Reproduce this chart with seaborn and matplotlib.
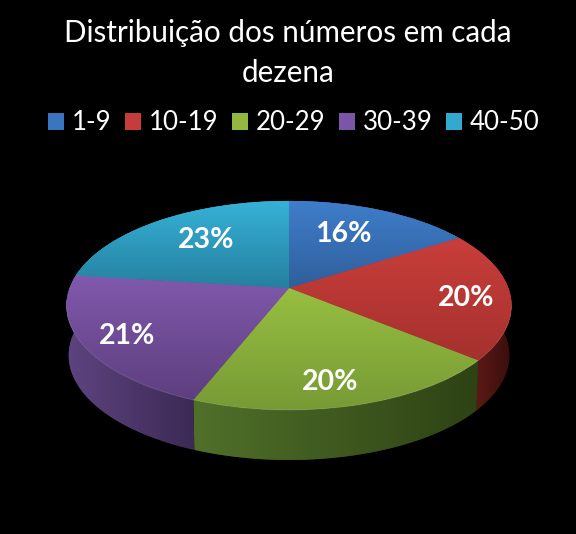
import numpy as np
import matplotlib
matplotlib.use("Agg")
import matplotlib.pyplot as plt
import matplotlib.transforms as mtransforms
from matplotlib.colors import LinearSegmentedColormap
from matplotlib.patches import Polygon
import seaborn as sns

# Dados
faixas = ["1-9", "10-19", "20-29", "30-39", "40-50"]
valores = [16, 20, 20, 21, 23]
titulo = "Distribuição dos números em cada\ndezena"

# (claro, escuro) de cada fatia
cores_topo = [("#3f7ecb", "#2f5f9c"), ("#c93e3a", "#a5312e"), ("#97bf41", "#779a35"),
              ("#8159ad", "#5d3f7e"), ("#36b2d8", "#25809f")]
cores_lado = [("#2f5f9c", "#1d3a60"), ("#6b1e1b", "#3a0e0c"), ("#50702a", "#2e4214"),
              ("#5e4480", "#3c2a55"), ("#25809f", "#164e61")]
cores_legenda = ["#3a76c0", "#c63c3a", "#93b83f", "#7b56a6", "#33a9cf"]
raio_rotulos = [0.66, 0.80, 0.80, 0.80, 0.65]
ajuste_rotulos = [(-9, 0), (0, 5), (-9, 4), (0, 4), (4, -2)]

sns.set_theme(style="dark", rc={"figure.facecolor": "black", "axes.facecolor": "black",
                                "savefig.facecolor": "black", "text.color": "white"})
plt.rcParams["font.family"] = ["Lato", "DejaVu Sans"]

# Perspectiva do disco (pixels da imagem)
CX, CY = 289, 288
A, B, K = 219.4, 101.6, 0.167
ALTURA = 50


class Perspectiva(mtransforms.Transform):
    input_dims = 2
    output_dims = 2
    is_separable = False
    has_inverse = False

    def transform_non_affine(self, values):
        values = np.asarray(values, dtype=float)
        d = 1 + K * values[:, 1]
        return np.column_stack([CX + A * values[:, 0] / d, CY - B * values[:, 1] / d])


def gradiente(ax, cores, extent, patch_path, transform, vertical=True, zorder=2):
    cmap = LinearSegmentedColormap.from_list("g", cores)
    g = np.linspace(0, 1, 256)
    g = g[:, None] if vertical else g[None, :]
    im = ax.imshow(g, cmap=cmap, extent=extent, aspect="auto", zorder=zorder, vmin=0, vmax=1)
    im.set_clip_path(patch_path, transform=transform)
    return im


fig, ax = plt.subplots(figsize=(5.76, 5.34), dpi=100)
fig.subplots_adjust(0, 0, 1, 1)

wedges, _, autotexts = ax.pie(valores, startangle=90, counterclock=False,
                              colors=cores_legenda, autopct="%.0f%%",
                              wedgeprops={"linewidth": 0},
                              textprops={"fontsize": 20.5, "fontweight": "bold", "color": "white"})
ax.set_aspect("auto")
persp = Perspectiva() + ax.transData

for i, w in enumerate(wedges):
    th = np.radians(np.linspace(w.theta1, w.theta2, 120))
    arco = Perspectiva().transform(np.column_stack([np.cos(th), np.sin(th)]))

    # lateral da fatia
    baixo = np.column_stack([CX + (arco[:, 0] - CX) * 0.99, arco[:, 1] + ALTURA])
    lado = Polygon(np.vstack([arco, baixo[::-1]]), closed=True, transform=ax.transData,
                   facecolor=cores_lado[i][1], edgecolor="none", zorder=1)
    ax.add_patch(lado)
    gradiente(ax, cores_lado[i], (arco[:, 0].min(), arco[:, 0].max(), 500, 100),
              lado.get_path(), ax.transData, vertical=False, zorder=1)

    # topo da fatia, gradiente de cima para baixo
    y_cima = min(arco[:, 1].min(), CY)
    y_baixo = max(arco[:, 1].max(), CY)
    w.set_transform(persp)
    w.set_zorder(3)
    gradiente(ax, cores_topo[i], (60, 520, y_baixo, y_cima), w.get_path(), persp, zorder=4)

    # brilho na borda da frente
    frente = arco[:, 1] > 300
    ax.plot(arco[frente, 0], arco[frente, 1], color="white", alpha=0.10, lw=0.8, zorder=5)

    # rotulo
    meio = np.radians((w.theta1 + w.theta2) / 2)
    pos = Perspectiva().transform(np.array([[raio_rotulos[i] * np.cos(meio),
                                             raio_rotulos[i] * np.sin(meio)]]))[0]
    t = autotexts[i]
    t.set_position((pos[0] + ajuste_rotulos[i][0], pos[1] + ajuste_rotulos[i][1]))
    t.set_zorder(6)

ax.set_xlim(0, 576)
ax.set_ylim(534, 0)
ax.axis("off")

ax.text(288, 53, titulo, ha="center", va="center", fontsize=21.3, color="white", linespacing=1.5)
leg = ax.legend(wedges, faixas, ncol=5, loc="center", bbox_to_anchor=(0.51, 1 - 123 / 534),
                frameon=False, fontsize=18.6, labelcolor="white", handlelength=0.62, handleheight=0.65,
                handletextpad=0.3, columnspacing=0.52)

fig.savefig("out.png", dpi=100)
